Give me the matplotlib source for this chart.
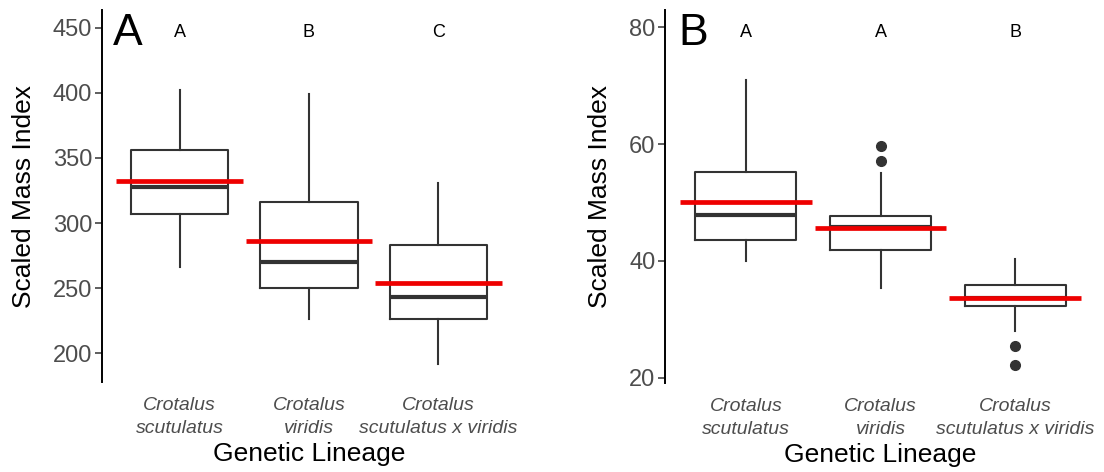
import matplotlib
matplotlib.use("Agg")
import matplotlib.pyplot as plt

# Scaled mass index by genetic lineage: box summaries plus group means (red bars)
plt.rcParams["font.family"] = ["Liberation Sans", "DejaVu Sans"]

lineages = ["Crotalus\nscutulatus", "Crotalus\nviridis", "Crotalus\nscutulatus x viridis"]

# Panel A
a_whislo = [266, 226, 192]
a_q1 = [306.6, 249.8, 226.6]
a_med = [328, 269.8, 243.5]
a_q3 = [356.5, 316, 282.8]
a_whishi = [402, 399, 331]
a_mean = [332.4, 285.9, 254]
a_fliers = [[], [], []]
a_letters = ["A", "B", "C"]
a_letter_y = 446.5
a_ylim = (178, 463.6)
a_ticks = [200, 250, 300, 350, 400, 450]

# Panel B
b_whislo = [40, 35.3, 28]
b_q1 = [43.5, 41.9, 32.2]
b_med = [47.9, 45.8, 33.6]
b_q3 = [55.2, 47.7, 35.8]
b_whishi = [70.9, 55.1, 40.4]
b_mean = [50.1, 45.7, 33.6]
b_fliers = [[], [59.7, 57.1], [25.4, 22.1]]
b_letters = ["A", "A", "B"]
b_letter_y = 79.1
b_ylim = (19.1, 82.96)
b_ticks = [20, 40, 60, 80]

DARK = "#333333"
GREY = "#4D4D4D"


def draw_panel(ax, whislo, q1, med, q3, whishi, mean, fliers, letters, letter_y,
               ylim, ticks, tag, ylab_x, tag_x):
    pos = [1, 2, 3]
    stats = []
    for i in range(3):
        stats.append(dict(whislo=whislo[i], q1=q1[i], med=med[i], q3=q3[i],
                          whishi=whishi[i], fliers=fliers[i]))
    ax.bxp(stats, positions=pos, widths=0.75, showcaps=False, showfliers=True,
           boxprops=dict(color=DARK, linewidth=1.5),
           whiskerprops=dict(color=DARK, linewidth=1.5),
           medianprops=dict(color=DARK, linewidth=3.0),
           flierprops=dict(marker="o", markersize=7, markerfacecolor=DARK,
                           markeredgecolor=DARK))
    for p, m in zip(pos, mean):
        ax.hlines(m, p - 0.49, p + 0.49, color="#EE0000", linewidth=3.4, zorder=5)
    for p, l in zip(pos, letters):
        ax.text(p, letter_y, l, ha="center", va="center", fontsize=13)

    ax.set_xlim(0.4, 3.6)
    ax.set_ylim(*ylim)
    ax.set_yticks(ticks)
    ax.set_xticks(pos)
    ax.set_xticklabels(lineages, fontstyle="italic", color=GREY, fontsize=14,
                       linespacing=1.45)
    ax.tick_params(axis="x", length=0, pad=11)
    ax.tick_params(axis="y", length=5, width=1.1, color=DARK, labelsize=17,
                   labelcolor=GREY, pad=2)
    for s in ["top", "right", "bottom"]:
        ax.spines[s].set_visible(False)
    ax.spines["left"].set_linewidth(1.4)
    ax.spines["left"].set_color("black")

    ax.set_ylabel("Scaled Mass Index", fontsize=19)
    ax.yaxis.set_label_coords(ylab_x, 0.5)
    ax.set_xlabel("Genetic Lineage", fontsize=19)
    ax.xaxis.set_label_coords(0.5, -0.162)
    ax.text(tag_x, 0.906, tag, transform=ax.transAxes, fontsize=32,
            ha="left", va="baseline")


fig = plt.figure(figsize=(11.04, 4.72), dpi=100)
ax1 = fig.add_axes([102 / 1104, 90 / 472, 414 / 1104, 372 / 472])
ax2 = fig.add_axes([665 / 1104, 89 / 472, 431 / 1104, 373 / 472])

draw_panel(ax1, a_whislo, a_q1, a_med, a_q3, a_whishi, a_mean, a_fliers,
           a_letters, a_letter_y, a_ylim, a_ticks, "A", -0.160, 0.026)
draw_panel(ax2, b_whislo, b_q1, b_med, b_q3, b_whishi, b_mean, b_fliers,
           b_letters, b_letter_y, b_ylim, b_ticks, "B", -0.1225, 0.030)

fig.savefig("out.png", dpi=100)
